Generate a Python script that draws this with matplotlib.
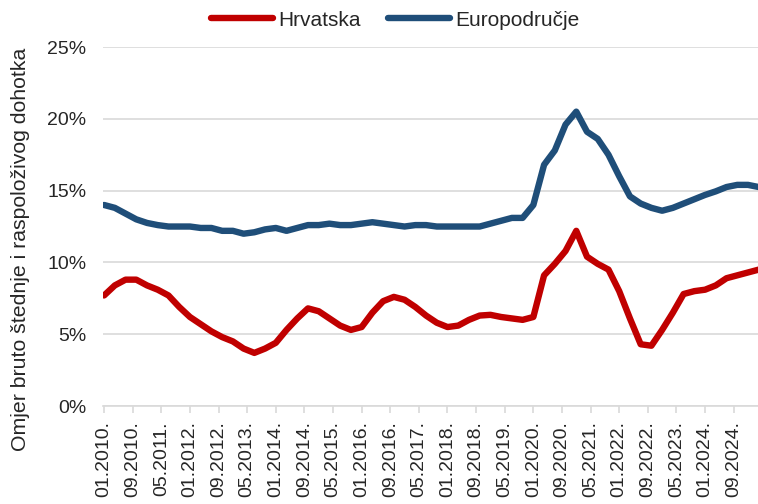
"""Omjer bruto štednje kućanstava: Hrvatska vs. europodručje (tromjesečno)."""
import matplotlib

matplotlib.use("Agg")

import matplotlib.pyplot as plt
import numpy as np

plt.rcParams["font.family"] = ["Liberation Sans", "DejaVu Sans"]

# tromjesecni podaci od 01.2010. (vrijednosti u %)
hrvatska = [
    7.7, 8.4, 8.8, 8.8, 8.4, 8.1, 7.7, 6.9, 6.2, 5.7, 5.2, 4.8, 4.5, 4.0, 3.7, 4.0,
    4.4, 5.3, 6.1, 6.8, 6.6, 6.1, 5.6, 5.3, 5.5, 6.5, 7.3, 7.6, 7.4, 6.9, 6.3, 5.8,
    5.5, 5.6, 6.0, 6.3, 6.35, 6.2, 6.1, 6.0, 6.2, 9.1, 9.9, 10.8, 12.2, 10.4, 9.9, 9.5,
    8.0, 6.1, 4.3, 4.2, 5.3, 6.5, 7.8, 8.0, 8.1, 8.4, 8.9, 9.1, 9.3, 9.5,
]
europodrucje = [
    14.0, 13.8, 13.4, 13.0, 12.75, 12.6, 12.5, 12.5, 12.5, 12.4, 12.4, 12.2, 12.2, 12.0, 12.1, 12.3,
    12.4, 12.2, 12.4, 12.6, 12.6, 12.7, 12.6, 12.6, 12.7, 12.8, 12.7, 12.6, 12.5, 12.6, 12.6, 12.5,
    12.5, 12.5, 12.5, 12.5, 12.7, 12.9, 13.1, 13.1, 14.0, 16.8, 17.8, 19.6, 20.5, 19.1, 18.6, 17.5,
    16.0, 14.6, 14.1, 13.8, 13.6, 13.8, 14.1, 14.4, 14.7, 14.95, 15.25, 15.4, 15.4, 15.25,
]
# oznake na osi x svakih 8 mjeseci
oznake_x = [
    "01.2010.", "09.2010.", "05.2011.", "01.2012.", "09.2012.", "05.2013.", "01.2014.",
    "09.2014.", "05.2015.", "01.2016.", "09.2016.", "05.2017.", "01.2018.", "09.2018.",
    "05.2019.", "01.2020.", "09.2020.", "05.2021.", "01.2022.", "09.2022.", "05.2023.",
    "01.2024.", "09.2024.",
]

CRVENA = "#C00000"
PLAVA = "#1F4E79"
SIVA = "#D9D9D9"

mjeseci = np.arange(len(hrvatska)) * 3
pozicije_x = np.arange(len(oznake_x)) * 8

fig = plt.figure(figsize=(7.58, 5.04), dpi=100)
ax = fig.add_axes([0.1359, 0.1944, 0.8641, 0.7123])

ax.plot(mjeseci, hrvatska, color=CRVENA, lw=4.6, solid_capstyle="round",
        solid_joinstyle="round", label="Hrvatska", zorder=3)
ax.plot(mjeseci, europodrucje, color=PLAVA, lw=4.6, solid_capstyle="round",
        solid_joinstyle="round", label="Europodručje", zorder=3)

ax.set_ylim(0, 25)
ax.set_xlim(-0.3, 182.8)
ax.set_yticks(np.arange(0, 26, 5))
ax.set_yticklabels([f"{v}%" for v in range(0, 26, 5)])
ax.set_xticks(pozicije_x)
ax.set_xticklabels(oznake_x, rotation=90)
ax.grid(axis="y", color=SIVA, lw=1.2)
ax.set_axisbelow(True)

for s in ["top", "right", "left"]:
    ax.spines[s].set_visible(False)
ax.spines["bottom"].set_color(SIVA)
ax.spines["bottom"].set_linewidth(1.2)
ax.tick_params(axis="y", length=0, labelsize=14, colors="#262626", pad=12)
ax.tick_params(axis="x", length=5, width=1.2, color=SIVA, labelsize=14,
               labelcolor="#262626", pad=6)

ax.set_ylabel("Omjer bruto štednje i raspoloživog dohotka", fontsize=15.3,
              color="#262626")
ax.yaxis.set_label_coords(-0.112, 0.435)

ax.legend(loc="center", bbox_to_anchor=(0.446, 1.075), ncol=2, frameon=False,
          fontsize=15, handlelength=3.0, handletextpad=0.25, columnspacing=1.3,
          labelcolor="#262626")

fig.savefig("out.png", dpi=100)
